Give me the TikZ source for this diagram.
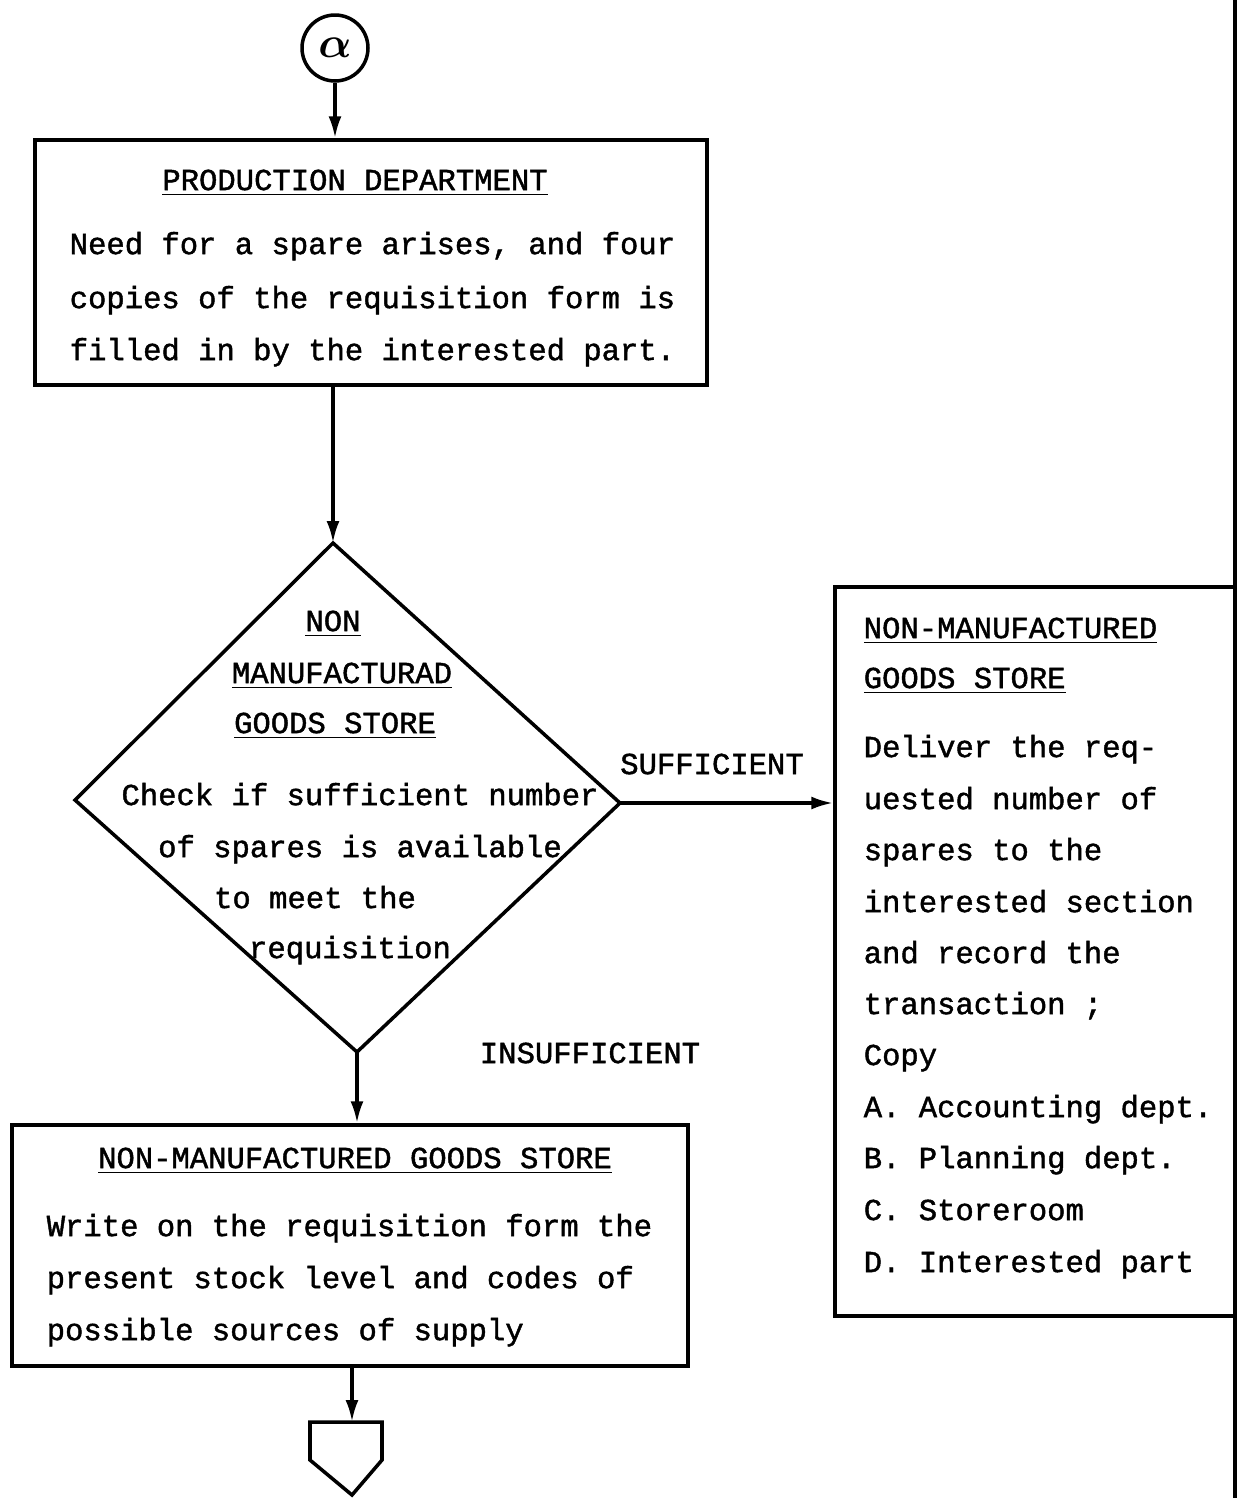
\documentclass[tikz,border=0pt]{standalone}
\usepackage{amsmath}
\usepackage{fontspec}
\usetikzlibrary{arrows.meta}
\newfontfamily\tw{Liberation Mono}[FakeBold=1.4]
\begin{document}
\begin{tikzpicture}[x=0.02cm,y=-0.02cm,
  line width=2pt,
  arr/.style={-{Latex[length=0.44cm,width=0.26cm]}},
  boxnode/.style={draw,rectangle,inner sep=0pt},
  txt/.style={font=\tw\fontsize{17.4pt}{20pt}\selectfont,inner sep=0pt,text height=0.92em,text depth=0em},
  ltxt/.style={txt,anchor=west},
  greek/.style={font=\fontsize{44pt}{44pt}\selectfont}]
\useasboundingbox (0,0) rectangle (1237,1498);
% page edge line
\coordinate (pgtop) at (1235,0);
\coordinate (pgbot) at (1235,1498);
\draw (pgtop) -- (pgbot);

% connector circle
\node[draw,circle,minimum size=1.32cm,inner sep=0pt,greek] (alpha) at (335,48) {$\boldsymbol{\alpha}$};

% box 1
\node[boxnode,minimum width=13.44cm,minimum height=4.9cm] (b1) at (371,262.5) {};
\node[txt] (b1t) at (355,182) {\underline{PRODUCTION DEPARTMENT}};
\node[ltxt] (b1l1) at (68,246) {Need for a spare arises, and four};
\node[ltxt] (b1l2) at (68,300) {copies of the requisition form is};
\node[ltxt] (b1l3) at (68,352) {filled in by the interested part.};

% diamond
\coordinate (dtop) at (333,543);
\coordinate (dleft) at (75,800);
\coordinate (dright) at (620,803);
\coordinate (dbot) at (357,1052);
\draw[line join=miter] (dtop) -- (dright) -- (dbot) -- (dleft) -- cycle;
\node[txt] (d1) at (333,623) {\underline{NON}};
\node[txt] (d2) at (342,675) {\underline{MANUFACTURAD}};
\node[txt] (d3) at (335,725) {\underline{GOODS STORE}};
\node[txt] (d4) at (360,797) {Check if sufficient number};
\node[txt] (d5) at (360,849) {of spares is available};
\node[txt] (d6) at (315,900) {to meet the};
\node[txt] (d7) at (350,950) {requisition};

% right box
\node[boxnode,minimum width=8.04cm,minimum height=14.58cm] (b2) at (1036,951.5) {};
\node[ltxt] (r1) at (862,630) {\underline{NON-MANUFACTURED}};
\node[ltxt] (r2) at (862,680) {\underline{GOODS STORE}};
\node[ltxt] (r3) at (862,749) {Deliver the req-};
\node[ltxt] (r4) at (862,801) {uested number of};
\node[ltxt] (r5) at (862,852) {spares to the};
\node[ltxt] (r6) at (862,904) {interested section};
\node[ltxt] (r7) at (862,955) {and record the};
\node[ltxt] (r8) at (862,1006) {transaction ;};
\node[ltxt] (r9) at (862,1057) {Copy};
\node[ltxt] (r10) at (862,1109) {A. Accounting dept.};
\node[ltxt] (r11) at (862,1160) {B. Planning dept.};
\node[ltxt] (r12) at (862,1212) {C. Storeroom};
\node[ltxt] (r13) at (862,1264) {D. Interested part};

% box 3
\node[boxnode,minimum width=13.52cm,minimum height=4.82cm] (b3) at (350,1245.5) {};
\node[txt] (b3t) at (355,1160) {\underline{NON-MANUFACTURED GOODS STORE}};
\node[ltxt] (b3l1) at (45,1228) {Write on the requisition form the};
\node[ltxt] (b3l2) at (45,1280) {present stock level and codes of};
\node[ltxt] (b3l3) at (45,1332) {possible sources of supply};

% off-page connector
\coordinate (ptop) at (352,1422);
\draw[line join=miter] (310,1422) -- (382,1422) -- (382,1460) -- (352,1495) -- (310,1460) -- cycle;

% labels
\node[txt] (suf) at (712,766) {SUFFICIENT};
\node[txt] (insuf) at (590,1055) {INSUFFICIENT};

% connectors
\draw[arr] (alpha) -- (alpha |- b1.north);
\draw[arr] (dtop |- b1.south) -- (dtop);
\draw[arr] (dright) -- (b2.west |- dright);
\draw[arr] (dbot) -- (dbot |- b3.north);
\draw[arr] (ptop |- b3.south) -- (ptop);
\end{tikzpicture}
\end{document}
